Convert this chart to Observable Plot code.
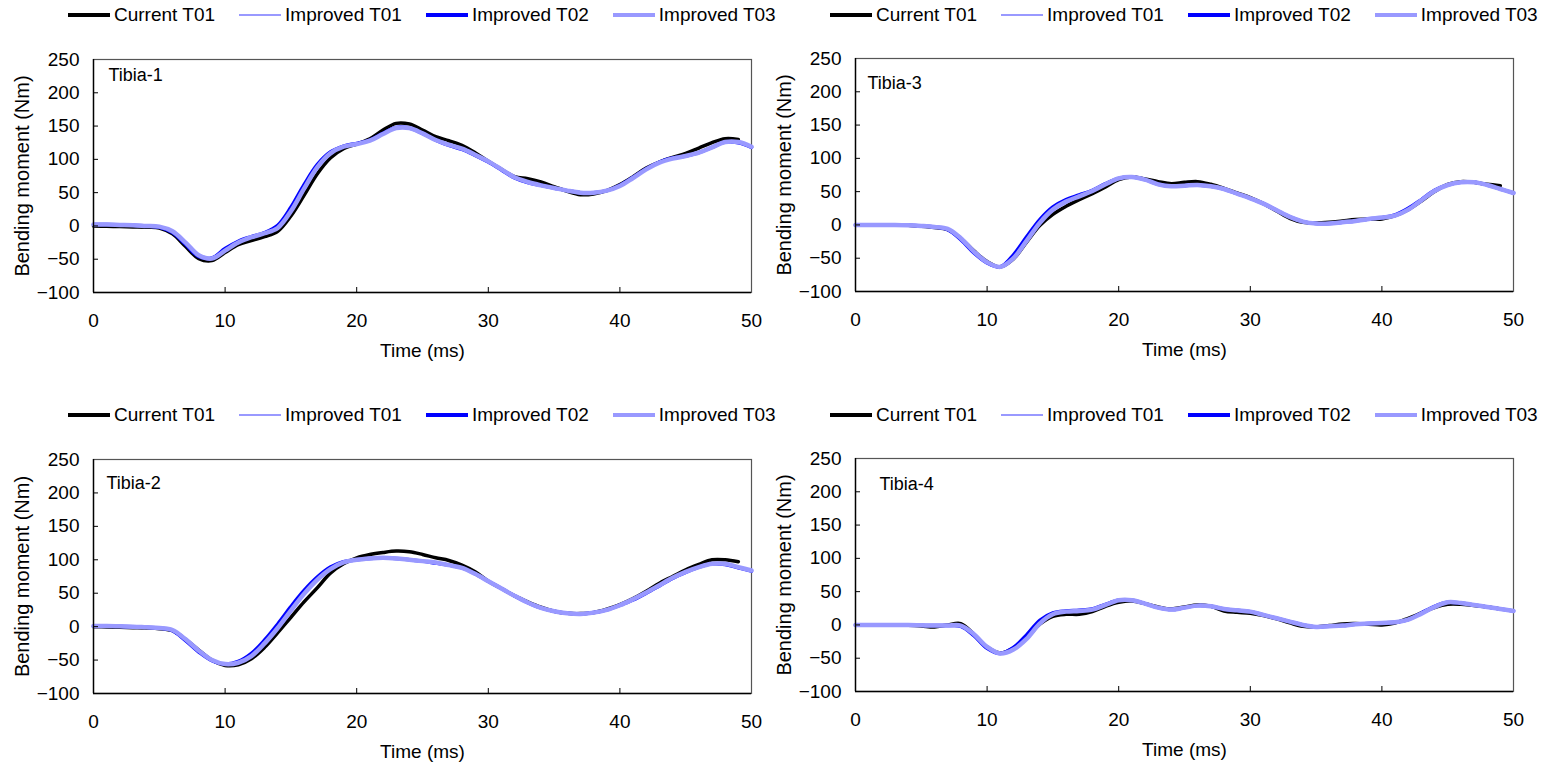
<!DOCTYPE html>
<html><head><meta charset="utf-8">
<script src="https://cdn.jsdelivr.net/npm/d3@7"></script>
<script src="https://cdn.jsdelivr.net/npm/@observablehq/plot@0.6"></script>
<style>
body{margin:0;background:#fff;font-family:"Liberation Sans",Arial,sans-serif;}
#fig{position:relative;width:1548px;height:764px;overflow:hidden;background:#fff;}
.panel{position:absolute;}
.legend{position:absolute;height:30px;display:flex;align-items:center;font-size:19px;color:#000;white-space:nowrap;}
.item{display:flex;align-items:center;margin-right:24px;}
.sw{width:42px;margin-right:4px;}
</style></head><body><div id="fig"></div>
<script>
// ---------- data ----------
const time = [0,1,2,3,4,5,6,7,8,9,10,11,12,13,14,15,16,17,18,19,20,21,22,23,24,25,26,27,28,29,30,31,32,33,34,35,36,37,38,39,40,41,42,43,44,45,46,47,48,49,50];
const seriesNames = ["Current T01","Improved T01","Improved T02","Improved T03"];
const xTicks = [0,10,20,30,40,50];
const yTicks = [-100,-50,0,50,100,150,200,250];
const xLabel = "Time (ms)";
const yLabel = "Bending moment (Nm)";

// Tibia-1
const tibia1Current = [0,-0.5,-1,-1.5,-2, -3,-12,-31,-49,-52, -40,-28,-22,-16,-8, 15,46,78,102,116, 123,131,144,154,153, 144,134,128,121,110, 97,85,74,71,66, 59,52,47,48,53, 62,74,87,96,103, 109,117,125,131,130];
const tibia1Imp01 = [1,1,1,0.5,0, -1.5,-9,-26,-45,-49, -36,-24,-17,-10,-2, 24,58,89,110,119, 123,128,138,147,146, 138,128,121,115,106, 96,84,72,65,61, 57,53,50,50,53, 60,72,85,95,101, 105,110,118,126,125, 118];
const tibia1Imp02 = [2,2,1.5,1,0, -2,-10,-28,-46,-48, -34,-23,-16,-10,1, 28,62,92,111,120, 124,129,139,148,147, 139,129,121,115,106, 96,84,72,65,61, 57,53,50,50,53, 61,73,86,96,102, 105,110,118,126,125, 118];
const tibia1Imp03 = [2,2,1.5,1,0, -1,-8,-25,-44,-49, -37,-25,-17,-11,-3, 22,56,88,109,119, 123,128,138,147,147, 139,129,122,116,107, 97,85,73,66,61, 57,53,50,50,53, 60,72,85,95,101, 105,110,118,126,126, 119];

// Tibia-2
const tibia2Current = [0,-0.5,-1,-1.5,-2, -3,-6,-19,-35,-50, -58,-57,-48,-31,-9, 14,37,58,80,94, 103,108,111,113,112, 108,103,99,92,82, 68,57,46,37,29, 23,20,19.5,21,26, 33,42,53,65,75, 85,93,100,100,97];
const tibia2Imp01 = [1,1,0.5,0,-1, -2,-5,-20,-37,-50, -56,-53,-42,-22,1, 27,51,72,87,96, 100,102,103,102,100, 98,95,92,88,79, 68,57,46,36,28, 23,20,19,21,25, 32,40,50,61,72, 81,89,94,93,88, 83];
const tibia2Imp02 = [1,1,0.5,0,-1, -2,-6,-21,-38,-51, -56,-52,-40,-20,4, 30,54,74,89,97, 100,102,103,102,100, 98,95,92,88,79, 68,57,46,36,28, 23,20,19,21,25, 32,40,50,61,72, 81,89,94,93,88, 83];
const tibia2Imp03 = [1,1,0.5,0,-1, -2,-5,-19,-36,-50, -56,-54,-44,-25,-2, 24,49,70,86,96, 100,102,103,102,100, 98,96,92,88,79, 68,57,46,36,28, 23,20,19,21,25, 32,41,51,62,73, 82,89,94,94,89, 84];

// Tibia-3
const tibia3Current = [0,0,0,0,-0.5, -2,-4,-7,-20,-39, -55,-63,-51,-26,-1, 16,28,38,47,57, 68,72,69,65,62, 64,65,61,55,48, 41,32,21,10,4, 3,4,6,8,9, 9,14,23,36,50, 61,65,64,61,59];
const tibia3Imp01 = [0,0,0,0,-0.5, -1.5,-3,-6,-21,-41, -56,-63,-48,-21,5, 25,36,44,51,61, 70,72,68,61,58, 59,60,58,54,47, 40,32,22,12,5, 2,2,4,6,9, 11,14,24,37,51, 60,64,64,60,54, 48];
const tibia3Imp02 = [0,0,0,0,-0.5, -1.5,-3,-7,-22,-42, -57,-63,-45,-18,8, 27,38,45,52,62, 70,72,68,61,58, 59,60,58,54,47, 40,32,22,12,5, 2,2,4,6,9, 11,15,25,38,52, 60,64,64,60,54, 48];
const tibia3Imp03 = [0,0,0,0,-0.5, -1.5,-3,-6,-20,-40, -56,-63,-50,-24,3, 23,35,43,51,61, 70,72,68,61,58, 59,60,58,54,47, 40,32,22,12,5, 2,2,4,6,9, 11,14,23,37,51, 60,64,64,60,54, 48];

// Tibia-4
const tibia4Current = [0,0,0,0,-0.5, -1.5,-3,0,2,-14, -33,-42,-35,-20,1, 13,16,16,20,28, 34,36,32,27,24, 27,30,28,21,19, 17.5,14,9,3,-2, -3,-1,1.5,2,1, 0,3,10,18,26, 31,31,29,27,24];
const tibia4Imp01 = [0,0,0,0,0, -0.5,-1,-1,-1.5,-15, -34,-43,-36,-18,4, 17,20,21,23,30, 37,37,32,26,23, 26,29,28,24,22, 20,15,10,5,0, -3,-2,-1,1,2, 3,4,8,17,27, 34,33,30,27,24, 21];
const tibia4Imp02 = [0,0,0,0,0, -0.5,-1,-1,-2,-16, -35,-43,-34,-15,7, 18,21,22,24,31, 37,37,32,26,23, 26,29,28,24,22, 20,15,10,5,0, -3,-2,-1,1,2, 3,4,8,18,28, 34,33,30,27,24, 21];
const tibia4Imp03 = [0,0,0,0,0, -0.5,-1,-1,-1,-14, -33,-43,-37,-21,2, 16,20,21,23,30, 37,37,32,26,23, 26,29,28,24,22, 20,15,10,5,0, -3,-2,-1,1,2, 3,4,8,17,27, 34,33,30,27,24, 21];

// ---------- styles & layout ----------
const seriesStyle = [
  {color:"#000000", width:3.5},
  {color:"#9999ff", width:1.5},
  {color:"#0000ff", width:3.5},
  {color:"#9999ff", width:4.5}
];
const panels = [
  {name:"Tibia-1", data:[tibia1Current,tibia1Imp01,tibia1Imp02,tibia1Imp03], left:0,   top:30,  height:345, mt:29, mb:83, lx:15, ly:16, legendTop:0},
  {name:"Tibia-3", data:[tibia3Current,tibia3Imp01,tibia3Imp02,tibia3Imp03], left:762, top:30,  height:345, mt:28, mb:84, lx:12, ly:25, legendTop:0},
  {name:"Tibia-2", data:[tibia2Current,tibia2Imp01,tibia2Imp02,tibia2Imp03], left:0,   top:430, height:334, mt:29, mb:71, lx:13, ly:24, legendTop:400},
  {name:"Tibia-4", data:[tibia4Current,tibia4Imp01,tibia4Imp02,tibia4Imp03], left:762, top:430, height:334, mt:28, mb:73, lx:24, ly:26, legendTop:400}
];
const FONT = "'Liberation Sans', Arial, sans-serif";
const fig = document.getElementById("fig");

panels.forEach(p => {
  const rows = [];
  p.data.forEach((arr, k) => arr.forEach((v, i) => rows.push({t: time[i], v, s: seriesNames[k]})));
  const lineMarks = seriesNames.map((s, k) => Plot.line(rows.filter(r => r.s === s), {
    x: "t", y: "v", stroke: seriesStyle[k].color, strokeWidth: seriesStyle[k].width, curve: "catmull-rom"
  }));
  const chart = Plot.plot({
    width: 774, height: p.height,
    marginLeft: 93, marginRight: 23, marginTop: p.mt, marginBottom: p.mb,
    style: {fontFamily: FONT, fontSize: "19px", color: "#000", background: "transparent", overflow: "visible"},
    x: {domain: [0, 50], ticks: xTicks, tickSize: 0, tickPadding: 21, label: null},
    y: {domain: [-100, 250], ticks: yTicks, tickSize: 0, tickPadding: 14, label: null},
    marks: [
      Plot.frame({stroke: "#555", strokeWidth: 1.2}),
      ...lineMarks,
      Plot.ruleX([0], {stroke: "#000", strokeWidth: 1.4}),
      Plot.ruleY([-100], {stroke: "#000", strokeWidth: 1.4}),
      Plot.ruleX(xTicks.slice(1, -1), {x: d => d, y1: -100, y2: -100, insetTop: -5, stroke: "#000"}),
      Plot.ruleY(yTicks.slice(1, -1), {y: d => d, x1: 0, x2: 0, insetRight: -5, stroke: "#000"}),
      Plot.text([p.name], {frameAnchor: "top-left", dx: p.lx, dy: p.ly, text: d => d, textAnchor: "start", lineAnchor: "middle", fontSize: 18}),
      Plot.text([xLabel], {frameAnchor: "bottom", dy: 58, text: d => d, textAnchor: "middle", lineAnchor: "middle", fontSize: 19}),
      Plot.text([yLabel], {frameAnchor: "left", dx: -71, rotate: -90, text: d => d, textAnchor: "middle", lineAnchor: "middle", fontSize: 20})
    ]
  });
  chart.classList.add("panel");
  chart.style.left = p.left + "px";
  chart.style.top = p.top + "px";
  chart.style.position = "absolute";
  fig.appendChild(chart);

  // legend above the panel
  const lg = document.createElement("div");
  lg.className = "legend";
  lg.style.left = (p.left + 68) + "px";
  lg.style.top = p.legendTop + "px";
  seriesNames.forEach((s, k) => {
    const it = document.createElement("div");
    it.className = "item";
    const sw = document.createElement("div");
    sw.className = "sw";
    sw.style.height = seriesStyle[k].width + "px";
    sw.style.background = seriesStyle[k].color;
    const tx = document.createElement("span");
    tx.textContent = s;
    it.appendChild(sw); it.appendChild(tx);
    lg.appendChild(it);
  });
  fig.appendChild(lg);
});
</script>
</body></html>
